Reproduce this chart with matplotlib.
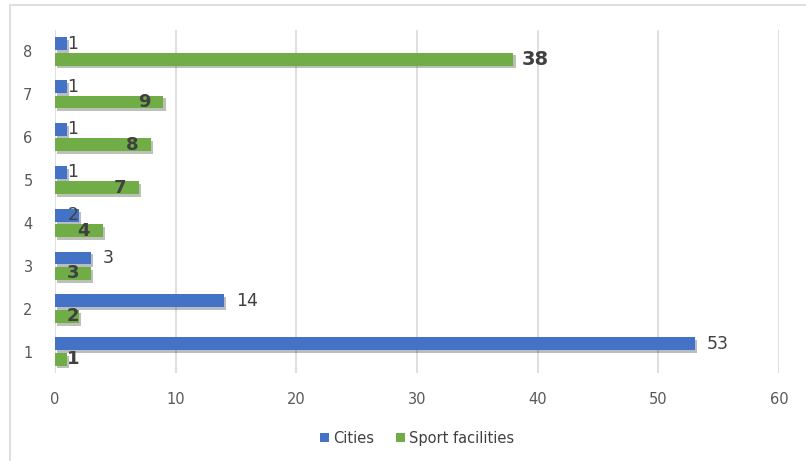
import matplotlib.pyplot as plt
import matplotlib.patheffects as pe
from matplotlib.patches import Rectangle
import numpy as np

# data
categories = [1, 2, 3, 4, 5, 6, 7, 8]
cities = [53, 14, 3, 2, 1, 1, 1, 1]
sport = [1, 2, 3, 4, 7, 8, 9, 38]

blue = '#4472C4'
green = '#70AD47'
txt = '#404040'

fig = plt.figure(figsize=(8.06, 4.61), dpi=100)
ax = fig.add_axes([0.068, 0.191, 0.8985, 0.744])

# outer chart border
fig.patches.append(Rectangle((10 / 806, -0.01), 1.0, 1 - 5 / 461 + 0.01,
                             transform=fig.transFigure, fill=False,
                             edgecolor='#d9d9d9', linewidth=1.2))

y = np.array(categories)
h = 0.3
shadow = [pe.SimplePatchShadow(offset=(1.5, -2), alpha=0.3), pe.Normal()]
b1 = ax.barh(y + 0.18, cities, height=h, color=blue, label='Cities')
b2 = ax.barh(y - 0.18, sport, height=h, color=green, label='Sport facilities')
for b in list(b1) + list(b2):
    b.set_path_effects(shadow)

# data labels
for yi, v in zip(y, cities):
    if v <= 2:
        ax.text(1.05, yi + 0.18, str(v), ha='left', va='center', fontsize=12.5, color=txt)
    else:
        ax.text(v + 1.0, yi + 0.18, str(v), ha='left', va='center', fontsize=12.5, color=txt)
for yi, v in zip(y, sport):
    if v > 30:
        ax.text(v + 1.8, yi - 0.18, str(v), ha='center', va='center', fontsize=14,
                fontweight='bold', color=txt)
    else:
        ax.text(max(v - 1.6, 1.5), yi - 0.18, str(v), ha='center', va='center',
                fontsize=13, fontweight='bold', color=txt)

ax.set_xlim(0, 60)
ax.set_ylim(0.5, 8.5)
ax.set_xticks(range(0, 61, 10))
ax.set_yticks(categories)
ax.grid(axis='x', color='#d9d9d9', linewidth=1.2)
ax.set_axisbelow(True)
for s in ax.spines.values():
    s.set_visible(False)
ax.tick_params(length=0, labelsize=10.5, colors='#595959', pad=14)
ax.tick_params(axis='y', pad=16)

leg = ax.legend(loc='upper center', bbox_to_anchor=(0.5, -0.13), ncol=2, frameon=False,
                fontsize=10.5, handlelength=0.6, handleheight=0.6, handletextpad=0.3,
                columnspacing=1.5)
for hd in leg.legend_handles:
    hd.set_path_effects([])
for t in leg.get_texts():
    t.set_color(txt)

fig.savefig('out.png', dpi=100)
